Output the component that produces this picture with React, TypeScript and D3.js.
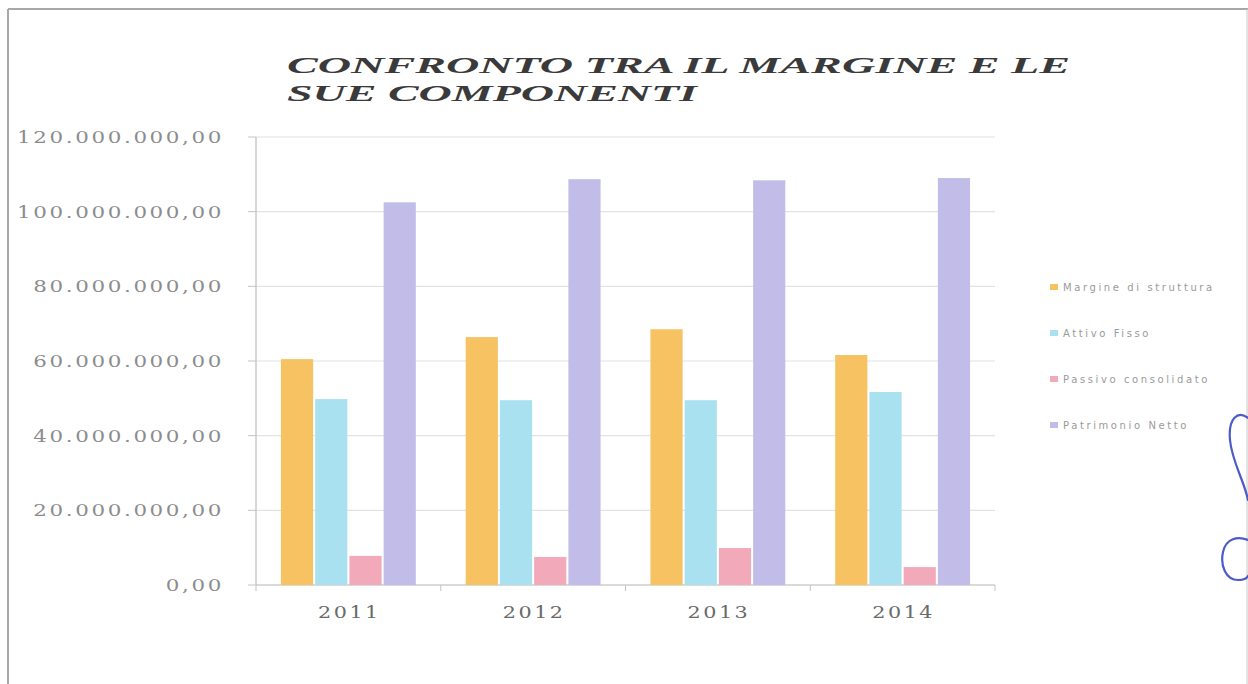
import React from "react";
import * as d3 from "d3";

const years = ["2011", "2012", "2013", "2014"];
const seriesNames = ["Margine di struttura", "Attivo Fisso", "Passivo consolidato", "Patrimonio Netto"];
const margineStruttura = [60500000, 66400000, 68500000, 61600000];
const attivoFisso = [49800000, 49500000, 49500000, 51700000];
const passivoConsolidato = [7800000, 7500000, 9900000, 4800000];
const patrimonioNetto = [102500000, 108700000, 108400000, 109000000];
const yTicks = [0, 20000000, 40000000, 60000000, 80000000, 100000000, 120000000];
const colors = ["#F6C262", "#A9E1F1", "#F2AABB", "#C1BDE8"];

const allSeries = [margineStruttura, attivoFisso, passivoConsolidato, patrimonioNetto];

const fmt = (v: number) => {
  const s = d3.format(",.2f")(v);
  return s.replace(/,/g, "#").replace(".", ",").replace(/#/g, ".");
};

export default function App() {
  const W = 1248, H = 684;
  const left = 256, right = 995, top = 137, bottom = 585;
  const x0 = d3.scaleBand<string>().domain(years).range([left, right]).paddingInner(0.27).paddingOuter(0.135);
  const x1 = d3.scaleBand<number>().domain([0, 1, 2, 3]).range([0, x0.bandwidth()]).paddingInner(0.06);
  const y = d3.scaleLinear().domain([0, 120000000]).range([bottom, top]);
  const step = x0.step();
  const boundaries = d3.range(years.length + 1).map((i) => left + i * step);

  return (
    <div style={{ position: "absolute", left: 0, top: 0 }}>
      <svg width={W} height={H} style={{ display: "block", background: "#fff" }}>
        {/* page frame */}
        <line x1={8} y1={9} x2={W} y2={9} stroke="#a8a8a8" strokeWidth={2} />
        <line x1={8} y1={9} x2={8} y2={H} stroke="#a8a8a8" strokeWidth={2} />
        <line x1={1247} y1={9} x2={1247} y2={H} stroke="#c8c8c8" strokeWidth={1} />

        {/* title */}
        <g fontFamily="'Liberation Serif', serif" fontStyle="italic" fontWeight="bold" fill="#3a3a3a" fontSize={24} style={{ whiteSpace: "pre" }}>
          <text x={287} y={73} textLength={783} lengthAdjust="spacingAndGlyphs">CONFRONTO TRA IL MARGINE E  LE</text>
          <text x={287} y={101} textLength={410} lengthAdjust="spacingAndGlyphs">SUE COMPONENTI</text>
        </g>

        {/* gridlines */}
        {yTicks.map((t) => (
          <line key={"g" + t} x1={left} x2={right} y1={y(t)} y2={y(t)} stroke="#e2e2e2" strokeWidth={1.2} />
        ))}

        {/* y axis */}
        <line x1={left} x2={left} y1={top} y2={bottom} stroke="#bdbdbd" strokeWidth={1.2} />
        {yTicks.map((t) => (
          <g key={"t" + t}>
            <line x1={left - 8} x2={left} y1={y(t)} y2={y(t)} stroke="#c4c4c4" />
            <g transform={`translate(224,${y(t) + 6}) scale(1.3,1)`}>
              <text x={0} y={0} textAnchor="end" fontFamily="'DejaVu Serif', serif" fontSize={16.5} letterSpacing={2} fill="#8c8c8c">
                {fmt(t)}
              </text>
            </g>
          </g>
        ))}

        {/* x axis */}
        <line x1={left} x2={right} y1={bottom} y2={bottom} stroke="#c4c4c4" strokeWidth={1.2} />
        {boundaries.map((b, i) => (
          <line key={"b" + i} x1={b} x2={b} y1={bottom} y2={bottom + 6} stroke="#c4c4c4" />
        ))}

        {/* bars */}
        {years.map((yr, gi) => (
          <g key={yr} transform={`translate(${x0(yr)},0)`}>
            {allSeries.map((s, si) => (
              <rect key={si} x={x1(si)} width={x1.bandwidth()} y={y(s[gi])} height={bottom - y(s[gi])} fill={colors[si]} />
            ))}
          </g>
        ))}

        {/* x labels */}
        {years.map((yr) => (
          <g key={"l" + yr} transform={`translate(${(x0(yr) as number) + x0.bandwidth() / 2 + 1},618) scale(1.22,1)`}>
            <text x={0} y={0} textAnchor="middle" fontFamily="'DejaVu Serif', serif" fontSize={17} letterSpacing={2} fill="#6a6a6a">
              {yr}
            </text>
          </g>
        ))}

        {/* legend */}
        {seriesNames.map((n, i) => {
          const ly = 287 + i * 46;
          return (
            <g key={n}>
              <rect x={1050} y={ly - 3} width={8} height={6} fill={colors[i]} />
              <text x={1063} y={ly + 3.5} fontFamily="'DejaVu Sans', sans-serif" fontSize={10} letterSpacing={2.6} fill="#9a9a9a">
                {n}
              </text>
            </g>
          );
        })}

        {/* pen mark */}
        <path
          d="M1248,418 C1238,410 1228,418 1230,440 C1232,462 1244,480 1248,500 M1248,540 C1238,536 1226,538 1223,552 C1220,566 1226,580 1238,580 C1244,580 1247,578 1248,576"
          fill="none"
          stroke="#4d5bc8"
          strokeWidth={2.2}
          strokeLinecap="round"
        />
      </svg>
    </div>
  );
}
